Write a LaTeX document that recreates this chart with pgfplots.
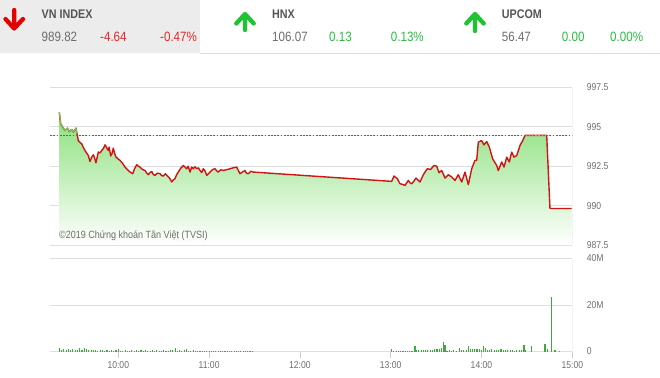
\documentclass[border=0pt]{standalone}
\usepackage{pgfplots}
\pgfplotsset{compat=1.18}
\usepackage{pgfplotstable}
\usepackage{fontspec}
\setmainfont{Liberation Sans}[FakeStretch=0.86]
\definecolor{txtgray}{RGB}{110,110,110}
\definecolor{labgray}{RGB}{85,85,85}
\definecolor{headbg}{RGB}{236,236,236}
\definecolor{gridgray}{RGB}{222,222,222}
\definecolor{downred}{RGB}{225,40,45}
\definecolor{upgreen}{RGB}{45,185,70}
\definecolor{arrred}{RGB}{228,0,0}
\definecolor{arrgreen}{RGB}{30,195,50}
\definecolor{linered}{RGB}{208,20,20}
\definecolor{refred}{RGB}{228,45,45}
\definecolor{linegreen}{RGB}{110,205,95}
\definecolor{fillgreen}{RGB}{138,224,122}
\definecolor{volgreen}{RGB}{60,170,60}

\pgfplotstableread{
h v
9.350 995.93
9.366 995.19
9.388 994.98
9.413 994.77
9.439 994.92
9.461 994.70
9.487 994.83
9.505 994.66
9.534 994.92
9.548 994.49
9.559 994.13
9.578 994.02
9.597 993.92
9.615 993.70
9.633 993.50
9.650 993.35
9.670 993.18
9.688 992.80
9.705 993.05
9.725 993.23
9.740 993.00
9.754 992.72
9.780 993.40
9.800 993.35
9.817 993.50
9.835 993.62
9.854 993.86
9.870 993.70
9.890 993.50
9.900 993.72
9.916 993.15
9.930 993.30
9.945 993.65
9.960 993.30
9.975 993.08
9.995 992.98
10.019 992.87
10.045 992.70
10.074 992.45
10.100 992.30
10.129 992.13
10.159 992.03
10.180 992.35
10.203 992.60
10.220 992.50
10.239 992.45
10.265 992.30
10.294 992.23
10.312 992.08
10.330 991.96
10.350 992.10
10.368 992.17
10.385 991.98
10.404 991.92
10.430 992.06
10.459 992.03
10.478 991.90
10.496 991.88
10.520 992.02
10.551 991.82
10.570 991.70
10.588 991.50
10.605 991.62
10.624 991.71
10.641 991.95
10.661 992.13
10.690 992.40
10.716 992.55
10.735 992.45
10.753 992.34
10.770 992.50
10.790 992.13
10.808 992.45
10.826 992.34
10.845 992.47
10.863 992.34
10.882 992.40
10.900 992.23
10.918 992.10
10.936 992.34
10.955 992.20
10.974 991.92
10.990 992.02
11.010 992.13
11.040 992.30
11.065 992.34
11.085 992.20
11.101 992.13
11.130 992.28
11.156 992.23
11.190 992.28
11.230 992.34
11.265 992.40
11.304 992.45
11.320 992.25
11.340 992.03
11.365 992.12
11.395 992.23
11.412 992.06
11.432 992.03
11.460 992.18
11.487 992.13
13.011 991.54
13.036 991.88
13.073 991.71
13.102 991.39
13.130 991.35
13.157 991.28
13.194 991.60
13.212 991.45
13.231 991.39
13.255 991.55
13.279 991.75
13.300 991.62
13.323 991.50
13.359 991.96
13.380 992.15
13.403 992.34
13.440 992.30
13.477 992.55
13.507 992.51
13.532 992.09
13.562 992.23
13.598 991.75
13.634 991.96
13.672 991.82
13.708 991.60
13.744 991.96
13.782 991.50
13.818 992.13
13.855 991.33
13.892 992.34
13.928 992.87
13.947 992.87
13.965 994.03
14.002 994.13
14.027 993.86
14.057 994.07
14.086 993.72
14.123 992.97
14.167 992.55
14.185 992.23
14.222 992.77
14.248 992.45
14.278 993.08
14.306 992.77
14.333 993.40
14.358 993.08
14.388 993.18
14.424 993.82
14.454 994.13
14.479 994.46
14.718 994.46
14.754 989.82
14.993 989.82
}\price

\pgfplotstableread{
h v
9.350 1.3
9.375 0.6
9.400 0.9
9.425 0.5
9.450 1.2
9.475 0.7
9.500 1.0
9.525 0.6
9.550 0.8
9.575 1.3
9.600 0.5
9.625 1.7
9.650 0.9
9.675 0.6
9.700 0.8
9.725 0.5
9.750 0.7
9.775 0.4
9.800 0.6
9.825 0.5
9.850 0.3
9.875 0.6
9.900 0.4
9.925 0.8
9.950 0.3
9.975 0.5
10.000 1.2
10.025 0.4
10.050 0.3
10.075 0.6
10.100 0.4
10.125 0.3
10.150 0.5
10.175 0.4
10.200 0.6
10.225 0.3
10.250 0.5
10.275 0.4
10.300 0.6
10.325 0.3
10.350 0.4
10.375 0.5
10.400 0.3
10.425 0.6
10.450 0.4
10.475 0.3
10.500 0.7
10.525 0.4
10.550 0.3
10.575 0.5
10.600 0.8
10.625 1.3
10.650 0.4
10.675 0.5
10.700 0.3
10.725 0.6
10.750 1.2
10.775 0.4
10.800 0.3
10.825 0.5
10.850 0.3
10.875 0.2
10.900 0.4
10.925 0.3
10.950 0.2
10.975 0.3
11.000 0.4
11.025 0.2
11.050 0.3
11.075 0.2
11.100 0.3
11.125 0.4
11.150 0.2
11.175 0.3
11.200 0.2
11.225 0.3
11.250 0.2
11.275 0.3
11.300 0.2
11.325 0.3
11.350 0.2
11.375 0.3
11.400 0.2
11.425 0.3
11.450 0.2
11.475 0.3
13.011 1.0
13.035 0.3
13.060 0.2
13.085 0.3
13.110 0.2
13.135 0.3
13.160 0.4
13.185 0.3
13.210 0.4
13.235 0.3
13.268 2.2
13.285 0.8
13.310 0.6
13.335 0.5
13.360 0.6
13.385 0.5
13.410 0.7
13.435 0.8
13.460 0.7
13.485 0.9
13.510 1.0
13.535 1.2
13.562 1.5
13.579 4.3
13.598 2.6
13.620 0.4
13.645 0.5
13.670 0.3
13.695 0.6
13.720 0.4
13.756 1.5
13.775 0.5
13.800 0.8
13.830 0.6
13.855 2.2
13.875 1.0
13.900 1.2
13.925 0.9
13.950 1.1
13.975 1.0
14.000 0.8
14.020 2.2
14.040 1.3
14.065 0.8
14.090 0.7
14.115 1.0
14.140 0.6
14.165 0.8
14.190 0.7
14.215 0.9
14.240 0.6
14.265 0.7
14.290 0.5
14.315 0.6
14.340 0.5
14.365 0.4
14.390 0.5
14.415 0.7
14.440 0.6
14.468 2.9
14.485 0.5
14.553 2.3
14.699 3.3
14.725 1.0
14.773 23.3
14.809 0.8
14.857 0.4
}\volume

\begin{document}
\begin{tikzpicture}
\path[use as bounding box] (0,0) rectangle (660bp,-378bp);
% header
\fill[headbg] (0,0) rectangle (200bp,-53bp);
\draw[gridgray, line width=0.8bp] (200bp,-53bp) -- (660bp,-53bp);
\draw[arrred, line width=4.3bp, line cap=round, line join=round]
  (14.2bp,-10bp) -- (14.2bp,-28.5bp) (5.5bp,-19bp) -- (14.2bp,-28.5bp) -- (23bp,-19bp);
\draw[arrgreen, line width=4.3bp, line cap=round, line join=round]
  (245bp,-30bp) -- (245bp,-14bp) (236.3bp,-23.5bp) -- (245bp,-14bp) -- (253.7bp,-23.5bp);
\draw[arrgreen, line width=4.3bp, line cap=round, line join=round]
  (475bp,-31bp) -- (475bp,-14bp) (466.3bp,-23.5bp) -- (475bp,-14bp) -- (483.7bp,-23.5bp);
\begin{scope}[every node/.style={anchor=base west, inner sep=0pt}]
\node[text=labgray, font=\fontsize{12.5bp}{14bp}\selectfont\bfseries] at (41.5bp,-18.3bp) {VN INDEX};
\node[text=txtgray, font=\fontsize{13.5bp}{15bp}\selectfont] at (41.5bp,-41.7bp) {989.82};
\node[text=downred, font=\fontsize{13.5bp}{15bp}\selectfont] at (100bp,-41.7bp) {-4.64};
\node[text=downred, font=\fontsize{13.5bp}{15bp}\selectfont] at (160bp,-41.7bp) {-0.47\%};
\node[text=labgray, font=\fontsize{12.5bp}{14bp}\selectfont\bfseries] at (272bp,-18.3bp) {HNX};
\node[text=txtgray, font=\fontsize{13.5bp}{15bp}\selectfont] at (272bp,-41.7bp) {106.07};
\node[text=upgreen, font=\fontsize{13.5bp}{15bp}\selectfont] at (329bp,-41.7bp) {0.13};
\node[text=upgreen, font=\fontsize{13.5bp}{15bp}\selectfont] at (390.7bp,-41.7bp) {0.13\%};
\node[text=labgray, font=\fontsize{12.5bp}{14bp}\selectfont\bfseries] at (501.7bp,-18.3bp) {UPCOM};
\node[text=txtgray, font=\fontsize{13.5bp}{15bp}\selectfont] at (501.7bp,-41.7bp) {56.47};
\node[text=upgreen, font=\fontsize{13.5bp}{15bp}\selectfont] at (561.7bp,-41.7bp) {0.00};
\node[text=upgreen, font=\fontsize{13.5bp}{15bp}\selectfont] at (610bp,-41.7bp) {0.00\%};
\end{scope}

% price chart
\begin{axis}[
  at={(50.2bp,-245bp)}, anchor=south west,
  scale only axis, width=522.1bp, height=157.5bp,
  xmin=9.25, xmax=15, ymin=987.5, ymax=997.5,
  axis line style={draw=none},
  xtick=\empty,
  ytick={987.5,990,992.5,995,997.5},
  yticklabel pos=right,
  ymajorgrids, grid style={gridgray, line width=0.8bp},
  tick style={draw=none}, major tick length=0pt,
  yticklabel style={anchor=west, inner sep=0pt, xshift=14.4bp, text=txtgray,
    font=\fontsize{10bp}{12bp}\selectfont,
    /pgf/number format/fixed, /pgf/number format/assume math mode=true},
]
\addplot[draw=none, top color=fillgreen, bottom color=white] table[x=h,y=v] {\price} |- (axis cs:9.35,987.5) -- cycle;
\addplot[linered, line width=1.4bp, line join=round] table[x=h,y=v] {\price};
\addplot[linegreen, line width=1.1bp, line join=round] coordinates {(9.350,995.93) (9.366,995.19) (9.388,994.98) (9.413,994.77) (9.439,994.92) (9.461,994.70) (9.487,994.83) (9.505,994.66) (9.534,994.92) (9.545,994.55)};
\addplot[linegreen, line width=1.1bp] coordinates {(14.479,994.46) (14.718,994.46)};
\draw[gridgray, line width=0.8bp] (rel axis cs:1,0) -- (rel axis cs:1,1);
\end{axis}
\node[anchor=base west, inner sep=0pt, text=txtgray, font=\fontsize{10.5bp}{12bp}\selectfont] at (59bp,-238.5bp) {©2019 Chứng khoán Tân Việt (TVSI)};

% reference line in its own overlay axis
\begin{axis}[
  at={(50.2bp,-245bp)}, anchor=south west,
  scale only axis, width=522.1bp, height=157.5bp,
  xmin=9.25, xmax=15, ymin=987.5, ymax=997.5,
  hide axis,
]
\addplot[color=refred, dash pattern=on 1.8bp off 1.4bp, line width=0.9bp, mark=none] coordinates {(9.25,994.46) (15,994.46)};
\end{axis}

% volume chart
\begin{axis}[
  at={(50.2bp,-351.5bp)}, anchor=south west,
  scale only axis, width=522.1bp, height=93bp,
  xmin=9.25, xmax=15, ymin=0, ymax=40,
  axis line style={draw=none},
  xtick={10,11,12,13,14,15},
  xticklabels={10:00,11:00,12:00,13:00,14:00,15:00},
  ytick={0,20,40}, yticklabels={0,20M,40M},
  yticklabel pos=right, xtick pos=bottom,
  ymajorgrids, grid style={gridgray, line width=0.8bp},
  tick align=outside, major tick length=6bp,
  xtick style={draw=gridgray!80!gray, line width=0.8bp},
  ytick style={draw=none},
  yticklabel style={anchor=west, inner sep=0pt, xshift=8.4bp, text=txtgray,
    font=\fontsize{10bp}{12bp}\selectfont},
  xticklabel style={text=txtgray, font=\fontsize{10bp}{12bp}\selectfont},
]
\addplot[ycomb, volgreen, line width=1.1bp] table[x=h,y=v] {\volume};
\draw[gridgray, line width=0.8bp] (rel axis cs:1,0) -- (rel axis cs:1,1);
\end{axis}
\end{tikzpicture}
\end{document}
